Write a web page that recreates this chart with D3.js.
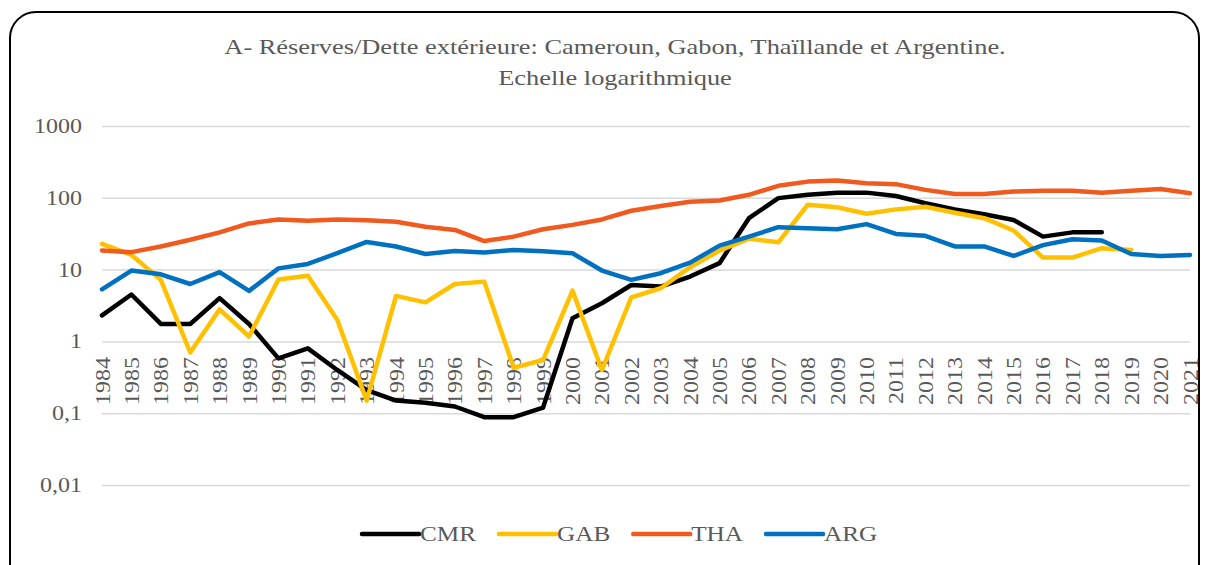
<!DOCTYPE html>
<html><head><meta charset="utf-8">
<script src="https://cdn.jsdelivr.net/npm/d3@7"></script>
<style>
html,body{margin:0;padding:0;background:#fff;}
svg{display:block;}
text{font-family:"Liberation Serif","Times New Roman",serif;fill:#595959;}
</style></head>
<body>
<svg id="chart" width="1209" height="565"></svg>
<script>
const years = d3.range(1984, 2022).map(String);
const CMR = [2.3,4.5,1.75,1.75,4.0,1.75,0.58,0.80,0.40,0.21,0.15,0.14,0.124,0.088,0.088,0.12,2.1,3.4,6.1,5.8,8.0,12.3,52,99,110,118,118,106,84,69,59,49,28.8,33,33,null,null,null];
const GAB = [22.8,16,7.2,0.70,2.8,1.17,7.3,8.2,2.0,0.15,4.3,3.5,6.3,6.8,0.43,0.55,5.1,0.40,4.1,5.5,10.8,18.4,27,24,80,74,60,69,75,62,52,35,14.7,14.7,19.9,18.8,null,null];
const THA = [18.4,17.5,21,26,33,44,50,48,50,48.5,46.5,39.5,35.7,25,28.8,36.5,42,50,66,77,88,91.5,110,147,168,174,160,155,129,113,113,122,125,125,118,125,133,116];
const ARG = [5.3,9.7,8.6,6.3,9.2,5.05,10.4,12,16.9,24.3,21,16.5,18.2,17.3,18.8,18,16.9,9.7,7.2,8.9,12.5,21.6,28.8,39,37.7,36.5,43,31.4,29.6,21,21,15.5,21.9,26.5,25.4,16.5,15.5,16];
const seriesNames = ["CMR","GAB","THA","ARG"];
const seriesValues = [CMR, GAB, THA, ARG];
const seriesColors = ["#000000","#FFC000","#F15A1E","#0070C0"];
const yTicks = [0.01, 0.1, 1, 10, 100, 1000];
const yTickLabels = ["0,01","0,1","1","10","100","1000"];
const titleLines = ["A- Réserves/Dette extérieure: Cameroun, Gabon, Thaïllande et Argentine.", "Echelle logarithmique"];

const svg = d3.select("#chart");
const SX = 1.2; // horizontal glyph stretch

// frame
svg.append("rect").attr("x",10).attr("y",12).attr("width",1189).attr("height",600)
  .attr("rx",26).attr("ry",26).attr("fill","none").attr("stroke","#000").attr("stroke-width",2);

const x = d3.scalePoint().domain(years).range([102, 1190]);
const y = d3.scaleLog().domain([0.01, 1000]).range([485, 126]);

// title
svg.append("g").selectAll("text").data(titleLines).join("text")
  .attr("transform",(d,i)=>`translate(615,${54 + i*31}) scale(${SX},1)`)
  .attr("text-anchor","middle").style("font-size","22px").text(d=>d);

// y grid + labels
const yAxis = d3.axisLeft(y).tickValues(yTicks)
  .tickFormat((d,i)=>yTickLabels[i]).tickSize(-(1190-102)).tickPadding(20);
const gy = svg.append("g").attr("transform","translate(102,0)").call(yAxis);
gy.select(".domain").remove();
gy.selectAll(".tick line").attr("stroke","#d9d9d9").attr("stroke-width",1.5);
gy.selectAll(".tick text").attr("fill","#595959").style("font-size","20px")
  .attr("font-family",null)
  .attr("transform", function(){ const xx = +d3.select(this).attr("x"); return `translate(${xx*(1-SX)},0) scale(${SX},1)`; });

// x labels
const xAxis = d3.axisBottom(x).tickSize(0).tickPadding(0);
const gx = svg.append("g").attr("transform",`translate(0,${y(1)})`).call(xAxis);
gx.select(".domain").remove();
gx.selectAll(".tick text").attr("fill","#595959").style("font-size","20px").attr("font-family",null)
  .attr("text-anchor","end").attr("x",-13).attr("y",0).attr("dy","0.35em")
  .attr("transform",`rotate(-90) scale(${SX},1)`);

// lines
const line = d3.line().defined(d=>d[1]!=null).x(d=>x(d[0])).y(d=>y(d[1]));
svg.append("g").selectAll("path").data(seriesValues).join("path")
  .attr("d", vals => line(years.map((yr,i)=>[yr, vals[i]])))
  .attr("fill","none").attr("stroke",(d,i)=>seriesColors[i])
  .attr("stroke-width",4.5).attr("stroke-linejoin","round").attr("stroke-linecap","round");

// legend
const lg = svg.append("g");
let cx = 362; const ly = 534;
seriesNames.forEach((n,i)=>{
  lg.append("line").attr("x1",cx).attr("x2",cx+57).attr("y1",ly).attr("y2",ly)
    .attr("stroke",seriesColors[i]).attr("stroke-width",4.5).attr("stroke-linecap","round");
  const t = lg.append("text").attr("transform",`translate(${cx+58},${ly}) scale(${SX},1)`)
    .attr("dy","0.35em").style("font-size","21px").text(n);
  const w = t.node().getComputedTextLength()*SX;
  cx += 58 + w + 23;
});
</script>
</body></html>
